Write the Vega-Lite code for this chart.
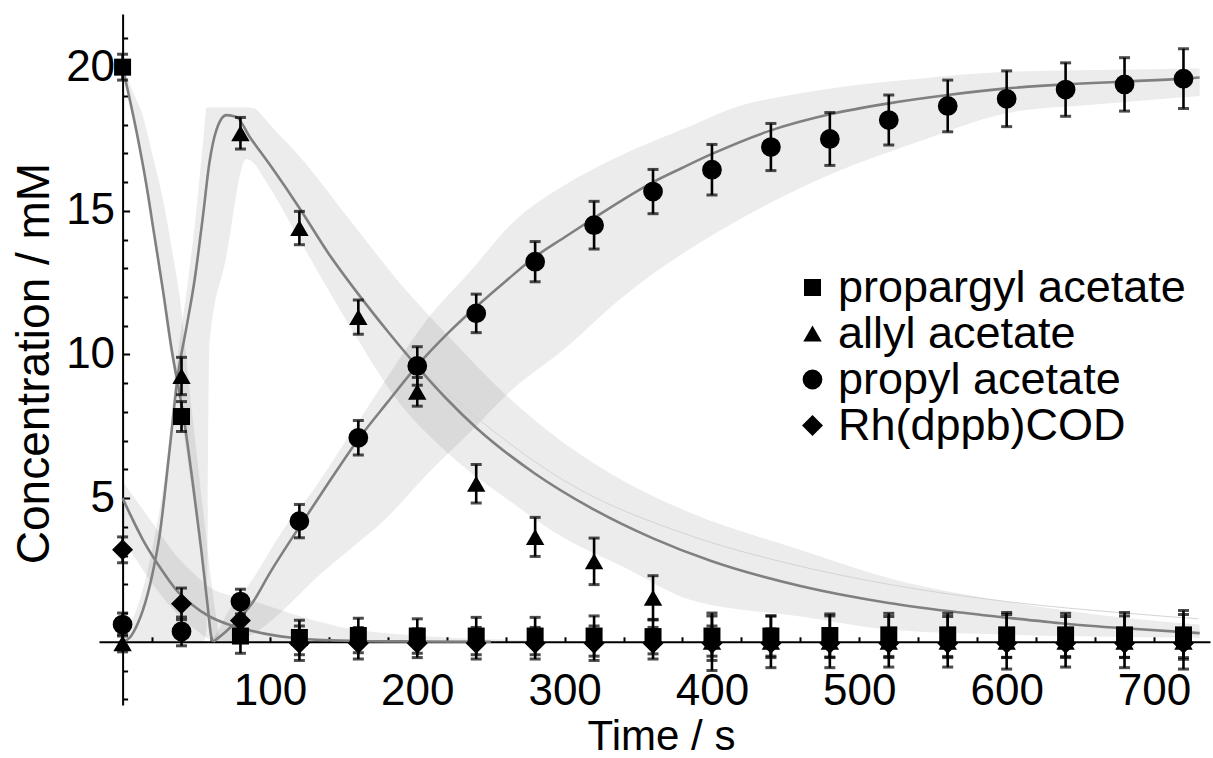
{
  "$schema": "https://vega.github.io/schema/vega-lite/v6.json",
  "width": 1111,
  "height": 691,
  "autosize": {"type": "none"},
  "padding": {"left": 99, "top": 14, "right": 3, "bottom": 53},
  "background": "white",
  "config": {"view": {"stroke": null}, "font": "Liberation Sans"},
  "datasets": {
    "pts": [
      {"series": "propargyl acetate", "t": 0, "c": 20.0, "err": 0.45},
      {"series": "propargyl acetate", "t": 40, "c": 7.84, "err": 0.52},
      {"series": "propargyl acetate", "t": 80, "c": 0.2, "err": 0.6},
      {"series": "propargyl acetate", "t": 120, "c": 0.15, "err": 0.6},
      {"series": "propargyl acetate", "t": 160, "c": 0.22, "err": 0.6},
      {"series": "propargyl acetate", "t": 200, "c": 0.2, "err": 0.6},
      {"series": "propargyl acetate", "t": 240, "c": 0.2, "err": 0.65},
      {"series": "propargyl acetate", "t": 280, "c": 0.2, "err": 0.65},
      {"series": "propargyl acetate", "t": 320, "c": 0.2, "err": 0.7},
      {"series": "propargyl acetate", "t": 360, "c": 0.18, "err": 0.6},
      {"series": "propargyl acetate", "t": 400, "c": 0.2, "err": 0.7},
      {"series": "propargyl acetate", "t": 440, "c": 0.2, "err": 0.7},
      {"series": "propargyl acetate", "t": 480, "c": 0.22, "err": 0.75},
      {"series": "propargyl acetate", "t": 520, "c": 0.24, "err": 0.75},
      {"series": "propargyl acetate", "t": 560, "c": 0.24, "err": 0.75},
      {"series": "propargyl acetate", "t": 600, "c": 0.24, "err": 0.78},
      {"series": "propargyl acetate", "t": 640, "c": 0.24, "err": 0.75},
      {"series": "propargyl acetate", "t": 680, "c": 0.24, "err": 0.78},
      {"series": "propargyl acetate", "t": 720, "c": 0.24, "err": 0.85},
      {"series": "allyl acetate", "t": 0, "c": -0.05, "err": 0.3},
      {"series": "allyl acetate", "t": 40, "c": 9.25, "err": 0.65},
      {"series": "allyl acetate", "t": 80, "c": 17.7, "err": 0.55},
      {"series": "allyl acetate", "t": 120, "c": 14.4, "err": 0.58},
      {"series": "allyl acetate", "t": 160, "c": 11.3, "err": 0.6},
      {"series": "allyl acetate", "t": 200, "c": 8.7, "err": 0.5},
      {"series": "allyl acetate", "t": 240, "c": 5.5, "err": 0.67},
      {"series": "allyl acetate", "t": 280, "c": 3.65, "err": 0.68},
      {"series": "allyl acetate", "t": 320, "c": 2.8, "err": 0.81},
      {"series": "allyl acetate", "t": 360, "c": 1.53, "err": 0.77},
      {"series": "allyl acetate", "t": 400, "c": 0.0, "err": 1.0},
      {"series": "allyl acetate", "t": 440, "c": 0.0, "err": 0.9},
      {"series": "allyl acetate", "t": 480, "c": 0.0, "err": 0.9},
      {"series": "allyl acetate", "t": 520, "c": 0.0, "err": 0.88},
      {"series": "allyl acetate", "t": 560, "c": 0.0, "err": 0.88},
      {"series": "allyl acetate", "t": 600, "c": 0.0, "err": 0.95},
      {"series": "allyl acetate", "t": 640, "c": 0.0, "err": 0.88},
      {"series": "allyl acetate", "t": 680, "c": 0.0, "err": 0.9},
      {"series": "allyl acetate", "t": 720, "c": 0.0, "err": 0.95},
      {"series": "propyl acetate", "t": 0, "c": 0.6, "err": 0.4},
      {"series": "propyl acetate", "t": 40, "c": 0.36, "err": 0.5},
      {"series": "propyl acetate", "t": 80, "c": 1.4, "err": 0.43},
      {"series": "propyl acetate", "t": 120, "c": 4.2, "err": 0.58},
      {"series": "propyl acetate", "t": 160, "c": 7.1, "err": 0.6},
      {"series": "propyl acetate", "t": 200, "c": 9.6, "err": 0.67},
      {"series": "propyl acetate", "t": 240, "c": 11.43, "err": 0.67},
      {"series": "propyl acetate", "t": 280, "c": 13.23, "err": 0.7},
      {"series": "propyl acetate", "t": 320, "c": 14.5, "err": 0.83},
      {"series": "propyl acetate", "t": 360, "c": 15.67, "err": 0.77},
      {"series": "propyl acetate", "t": 400, "c": 16.43, "err": 0.88},
      {"series": "propyl acetate", "t": 440, "c": 17.22, "err": 0.82},
      {"series": "propyl acetate", "t": 480, "c": 17.5, "err": 0.92},
      {"series": "propyl acetate", "t": 520, "c": 18.16, "err": 0.87},
      {"series": "propyl acetate", "t": 560, "c": 18.65, "err": 0.9},
      {"series": "propyl acetate", "t": 600, "c": 18.9, "err": 0.97},
      {"series": "propyl acetate", "t": 640, "c": 19.22, "err": 0.93},
      {"series": "propyl acetate", "t": 680, "c": 19.4, "err": 0.93},
      {"series": "propyl acetate", "t": 720, "c": 19.6, "err": 1.04},
      {"series": "Rh(dppb)COD", "t": 0, "c": 3.2, "err": 0.45},
      {"series": "Rh(dppb)COD", "t": 40, "c": 1.32, "err": 0.55},
      {"series": "Rh(dppb)COD", "t": 80, "c": 0.74, "err": 0.5},
      {"series": "Rh(dppb)COD", "t": 120, "c": -0.05, "err": 0.6},
      {"series": "Rh(dppb)COD", "t": 160, "c": -0.05, "err": 0.55},
      {"series": "Rh(dppb)COD", "t": 200, "c": -0.05, "err": 0.5},
      {"series": "Rh(dppb)COD", "t": 240, "c": -0.05, "err": 0.55},
      {"series": "Rh(dppb)COD", "t": 280, "c": -0.05, "err": 0.55},
      {"series": "Rh(dppb)COD", "t": 320, "c": -0.05, "err": 0.6},
      {"series": "Rh(dppb)COD", "t": 360, "c": -0.05, "err": 0.55},
      {"series": "Rh(dppb)COD", "t": 400, "c": -0.05, "err": 0.6},
      {"series": "Rh(dppb)COD", "t": 440, "c": -0.05, "err": 0.5},
      {"series": "Rh(dppb)COD", "t": 480, "c": -0.05, "err": 0.5},
      {"series": "Rh(dppb)COD", "t": 520, "c": -0.05, "err": 0.5},
      {"series": "Rh(dppb)COD", "t": 560, "c": -0.05, "err": 0.5},
      {"series": "Rh(dppb)COD", "t": 600, "c": -0.05, "err": 0.5},
      {"series": "Rh(dppb)COD", "t": 640, "c": -0.05, "err": 0.5},
      {"series": "Rh(dppb)COD", "t": 680, "c": -0.05, "err": 0.5},
      {"series": "Rh(dppb)COD", "t": 720, "c": -0.05, "err": 0.5}
    ],
    "curves": [
      {"curve": "P", "t": 0, "c": 20.0},
      {"curve": "P", "t": 9.3, "c": 17.8},
      {"curve": "P", "t": 16, "c": 15.95},
      {"curve": "P", "t": 21.7, "c": 14.1},
      {"curve": "P", "t": 27.4, "c": 12.24},
      {"curve": "P", "t": 33, "c": 10.27},
      {"curve": "P", "t": 41.4, "c": 7.84},
      {"curve": "P", "t": 47.7, "c": 5.5},
      {"curve": "P", "t": 53.4, "c": 3.2},
      {"curve": "P", "t": 57.5, "c": 1.35},
      {"curve": "P", "t": 60.2, "c": 0.18},
      {"curve": "P", "t": 61.3, "c": 0.0},
      {"curve": "A", "t": 0, "c": 0.0},
      {"curve": "A", "t": 5, "c": 0.15},
      {"curve": "A", "t": 10, "c": 0.6},
      {"curve": "A", "t": 13.8, "c": 1.1},
      {"curve": "A", "t": 20, "c": 2.3},
      {"curve": "A", "t": 25, "c": 3.66},
      {"curve": "A", "t": 31.9, "c": 6.68},
      {"curve": "A", "t": 37.6, "c": 9.3},
      {"curve": "A", "t": 43.2, "c": 10.9},
      {"curve": "A", "t": 48.9, "c": 12.6},
      {"curve": "A", "t": 54.5, "c": 14.8},
      {"curve": "A", "t": 59, "c": 16.7},
      {"curve": "A", "t": 63.6, "c": 17.8},
      {"curve": "A", "t": 70.4, "c": 18.33},
      {"curve": "A", "t": 77.2, "c": 18.27},
      {"curve": "A", "t": 86.2, "c": 17.58},
      {"curve": "A", "t": 100, "c": 16.6},
      {"curve": "A", "t": 120, "c": 15.1},
      {"curve": "A", "t": 140, "c": 13.5},
      {"curve": "A", "t": 160, "c": 12.1},
      {"curve": "A", "t": 180, "c": 10.8},
      {"curve": "A", "t": 200, "c": 9.58},
      {"curve": "A", "t": 220, "c": 8.45},
      {"curve": "A", "t": 240, "c": 7.45},
      {"curve": "A", "t": 280, "c": 5.85},
      {"curve": "A", "t": 320, "c": 4.6},
      {"curve": "A", "t": 360, "c": 3.6},
      {"curve": "A", "t": 400, "c": 2.8},
      {"curve": "A", "t": 460, "c": 1.94},
      {"curve": "A", "t": 520, "c": 1.35},
      {"curve": "A", "t": 560, "c": 1.07},
      {"curve": "A", "t": 600, "c": 0.84},
      {"curve": "A", "t": 640, "c": 0.63},
      {"curve": "A", "t": 680, "c": 0.47},
      {"curve": "A", "t": 731, "c": 0.3},
      {"curve": "R", "t": 61.5, "c": 0.0},
      {"curve": "R", "t": 70, "c": 0.35},
      {"curve": "R", "t": 80, "c": 0.85},
      {"curve": "R", "t": 88, "c": 1.35},
      {"curve": "R", "t": 100, "c": 2.4},
      {"curve": "R", "t": 120, "c": 4.0},
      {"curve": "R", "t": 140, "c": 5.55},
      {"curve": "R", "t": 160, "c": 7.05},
      {"curve": "R", "t": 180, "c": 8.35},
      {"curve": "R", "t": 199.4, "c": 9.58},
      {"curve": "R", "t": 220, "c": 10.7},
      {"curve": "R", "t": 240, "c": 11.66},
      {"curve": "R", "t": 260, "c": 12.55},
      {"curve": "R", "t": 280, "c": 13.4},
      {"curve": "R", "t": 300, "c": 14.08},
      {"curve": "R", "t": 320, "c": 14.75},
      {"curve": "R", "t": 340, "c": 15.4},
      {"curve": "R", "t": 360, "c": 16.0},
      {"curve": "R", "t": 380, "c": 16.5},
      {"curve": "R", "t": 400, "c": 16.98},
      {"curve": "R", "t": 440, "c": 17.8},
      {"curve": "R", "t": 480, "c": 18.36},
      {"curve": "R", "t": 520, "c": 18.74},
      {"curve": "R", "t": 560, "c": 19.03},
      {"curve": "R", "t": 600, "c": 19.26},
      {"curve": "R", "t": 640, "c": 19.4},
      {"curve": "R", "t": 680, "c": 19.5},
      {"curve": "R", "t": 720, "c": 19.6},
      {"curve": "R", "t": 731, "c": 19.64},
      {"curve": "D", "t": 0, "c": 5.0},
      {"curve": "D", "t": 5, "c": 4.45},
      {"curve": "D", "t": 13.8, "c": 3.55},
      {"curve": "D", "t": 25, "c": 2.62},
      {"curve": "D", "t": 36.4, "c": 1.81},
      {"curve": "D", "t": 47, "c": 1.3},
      {"curve": "D", "t": 59, "c": 0.88},
      {"curve": "D", "t": 72, "c": 0.6},
      {"curve": "D", "t": 86, "c": 0.4},
      {"curve": "D", "t": 100, "c": 0.25},
      {"curve": "D", "t": 115, "c": 0.14},
      {"curve": "D", "t": 131.5, "c": 0.07},
      {"curve": "D", "t": 160, "c": 0.03},
      {"curve": "D", "t": 200, "c": 0.01},
      {"curve": "D", "t": 250, "c": 0.0}
    ],
    "faint": [
      {"t": 200, "c": 9.6},
      {"t": 250, "c": 7.4},
      {"t": 300, "c": 5.6},
      {"t": 385, "c": 3.7},
      {"t": 450, "c": 2.75},
      {"t": 520, "c": 2.0},
      {"t": 600, "c": 1.4},
      {"t": 680, "c": 1.0},
      {"t": 730, "c": 0.8}
    ],
    "bands": [
      {"band": "P", "t": 0, "c": 19.7, "c2": 20.2},
      {"band": "P", "t": 5, "c": 18.6, "c2": 19.4},
      {"band": "P", "t": 13.8, "c": 16.4, "c2": 18.3},
      {"band": "P", "t": 20, "c": 14.4, "c2": 17.0},
      {"band": "P", "t": 27.4, "c": 11.9, "c2": 15.4},
      {"band": "P", "t": 33, "c": 9.9, "c2": 13.8},
      {"band": "P", "t": 39.8, "c": 7.9, "c2": 11.6},
      {"band": "P", "t": 45, "c": 6.0, "c2": 9.0},
      {"band": "P", "t": 50, "c": 4.3, "c2": 6.7},
      {"band": "P", "t": 55, "c": 2.5, "c2": 4.4},
      {"band": "P", "t": 60, "c": 0.1, "c2": 2.2},
      {"band": "P", "t": 66, "c": 0, "c2": 0},
      {"band": "A", "t": 0, "c": 0, "c2": 0.3},
      {"band": "A", "t": 10, "c": 0, "c2": 1.2},
      {"band": "A", "t": 20, "c": 0, "c2": 3.2},
      {"band": "A", "t": 30, "c": 0, "c2": 6.3},
      {"band": "A", "t": 37.6, "c": 0, "c2": 10.0},
      {"band": "A", "t": 45, "c": 0, "c2": 12.8},
      {"band": "A", "t": 50, "c": 0, "c2": 15.0},
      {"band": "A", "t": 55, "c": 0, "c2": 17.6},
      {"band": "A", "t": 57, "c": 0.5, "c2": 18.6},
      {"band": "A", "t": 59, "c": 10.4, "c2": 18.6},
      {"band": "A", "t": 70, "c": 13.3, "c2": 18.6},
      {"band": "A", "t": 84, "c": 16.8, "c2": 18.6},
      {"band": "A", "t": 90, "c": 16.6, "c2": 18.55},
      {"band": "A", "t": 95, "c": 16.2, "c2": 18.3},
      {"band": "A", "t": 100, "c": 15.8, "c2": 18.0},
      {"band": "A", "t": 120, "c": 14.0, "c2": 16.9},
      {"band": "A", "t": 154, "c": 11.0, "c2": 14.7},
      {"band": "A", "t": 188, "c": 8.3, "c2": 12.5},
      {"band": "A", "t": 220, "c": 6.6, "c2": 10.7},
      {"band": "A", "t": 260, "c": 5.0, "c2": 8.6},
      {"band": "A", "t": 300, "c": 3.6, "c2": 6.9},
      {"band": "A", "t": 340, "c": 2.6, "c2": 5.6},
      {"band": "A", "t": 385, "c": 1.46, "c2": 4.5},
      {"band": "A", "t": 460, "c": 0.88, "c2": 3.2},
      {"band": "A", "t": 521, "c": 0.42, "c2": 2.2},
      {"band": "A", "t": 600, "c": 0.25, "c2": 1.4},
      {"band": "A", "t": 660, "c": 0.18, "c2": 0.95},
      {"band": "A", "t": 731, "c": 0.14, "c2": 0.6},
      {"band": "R", "t": 60, "c": 0, "c2": 0},
      {"band": "R", "t": 65, "c": 0, "c2": 0.4},
      {"band": "R", "t": 70, "c": 0, "c2": 0.9},
      {"band": "R", "t": 86, "c": 0.2, "c2": 2.0},
      {"band": "R", "t": 109, "c": 1.1, "c2": 3.9},
      {"band": "R", "t": 131, "c": 2.2, "c2": 5.4},
      {"band": "R", "t": 154, "c": 3.2, "c2": 7.2},
      {"band": "R", "t": 177, "c": 4.2, "c2": 9.0},
      {"band": "R", "t": 208, "c": 5.9, "c2": 11.3},
      {"band": "R", "t": 236, "c": 7.3, "c2": 12.9},
      {"band": "R", "t": 265, "c": 8.8, "c2": 14.6},
      {"band": "R", "t": 300, "c": 10.2, "c2": 15.9},
      {"band": "R", "t": 337, "c": 11.9, "c2": 16.9},
      {"band": "R", "t": 392, "c": 13.9, "c2": 18.1},
      {"band": "R", "t": 405, "c": 14.3, "c2": 18.4},
      {"band": "R", "t": 473, "c": 16.1, "c2": 19.2},
      {"band": "R", "t": 540, "c": 17.4, "c2": 19.6},
      {"band": "R", "t": 600, "c": 18.4, "c2": 19.84},
      {"band": "R", "t": 660, "c": 18.7, "c2": 19.9},
      {"band": "R", "t": 731, "c": 19.0, "c2": 19.95},
      {"band": "D", "t": 0, "c": 3.6, "c2": 5.6},
      {"band": "D", "t": 13.8, "c": 2.5, "c2": 4.6},
      {"band": "D", "t": 25, "c": 1.7, "c2": 3.8},
      {"band": "D", "t": 36.4, "c": 1.0, "c2": 3.0},
      {"band": "D", "t": 50, "c": 0.4, "c2": 2.3},
      {"band": "D", "t": 59, "c": 0.1, "c2": 1.9},
      {"band": "D", "t": 86, "c": 0, "c2": 1.46},
      {"band": "D", "t": 120, "c": 0, "c2": 0.9},
      {"band": "D", "t": 154, "c": 0, "c2": 0.45},
      {"band": "D", "t": 190, "c": 0, "c2": 0.25},
      {"band": "D", "t": 222, "c": 0, "c2": 0.14},
      {"band": "D", "t": 280, "c": 0, "c2": 0.05}
    ]
  },
  "encoding": {
    "x": {
      "field": "t", "type": "quantitative",
      "scale": {"domain": [-16, 738], "nice": false, "zero": false},
      "axis": {
        "title": "Time / s", "orient": "bottom", "offset": -63.2,
        "values": [20, 40, 60, 80, 100, 120, 140, 160, 180, 200, 220, 240, 260, 280, 300, 320, 340, 360, 380, 400, 420, 440, 460, 480, 500, 520, 540, 560, 580, 600, 620, 640, 660, 680, 700, 720],
        "labelExpr": "datum.value % 100 === 0 ? datum.label : ''",
        "tickSize": -5, "tickWidth": 2, "tickColor": "black",
        "domainColor": "black", "domainWidth": 2,
        "labelFont": "Liberation Sans", "labelFontSize": 44, "labelColor": "black",
        "labelPadding": 33, "labelFlush": false, "labelOverlap": false, "labelBound": false,
        "titleFont": "Liberation Sans", "titleFontSize": 42, "titleFontWeight": "normal", "titleColor": "black",
        "titleBaseline": "alphabetic", "titleX": 562, "titleY": 108,
        "grid": false
      }
    },
    "y": {
      "field": "c", "type": "quantitative",
      "scale": {"domain": [-2.2, 21.85], "nice": false, "zero": false},
      "axis": {
        "title": "Concentration / mM", "orient": "left", "offset": -23.6,
        "values": [-2, -1, 1, 2, 3, 4, 5, 6, 7, 8, 9, 10, 11, 12, 13, 14, 15, 16, 17, 18, 19, 20, 21],
        "labelExpr": "datum.value % 5 === 0 ? datum.label : ''",
        "tickSize": {"condition": {"test": "datum.value % 5 === 0", "value": -7}, "value": -5},
        "tickWidth": 2, "tickColor": "black",
        "domainColor": "black", "domainWidth": 2,
        "labelFont": "Liberation Sans", "labelFontSize": 44, "labelColor": "black",
        "labelPadding": 15, "labelFlush": false, "labelOverlap": false, "labelBound": false,
        "titleFont": "Liberation Sans", "titleFontSize": 46, "titleFontWeight": "normal", "titleColor": "black",
        "titleBaseline": "alphabetic", "titleAngle": -90, "titleX": -74.6, "titleY": 349,
        "grid": false
      }
    }
  },
  "layer": [
    {
      "data": {"name": "bands"},
      "mark": {"type": "area", "color": "black", "opacity": 0.075, "interpolate": "monotone"},
      "encoding": {"y2": {"field": "c2"}, "detail": {"field": "band"}}
    },
    {
      "data": {"name": "faint"},
      "mark": {"type": "line", "color": "#d4d4d4", "strokeWidth": 1, "interpolate": "monotone"},
      "encoding": {}
    },
    {
      "data": {"name": "curves"},
      "mark": {"type": "line", "color": "#808080", "strokeWidth": 2.6, "interpolate": "monotone"},
      "encoding": {"detail": {"field": "curve"}}
    },
    {
      "data": {"name": "pts"},
      "mark": {"type": "errorbar", "ticks": {"size": 11, "thickness": 3, "color": "black"}, "rule": {"strokeWidth": 2.6, "color": "black"}},
      "encoding": {"yError": {"field": "err"}}
    },
    {
      "data": {"name": "pts"},
      "mark": {"type": "point", "filled": true, "color": "black", "opacity": 1},
      "encoding": {
        "shape": {
          "field": "series", "type": "nominal",
          "scale": {"domain": ["propargyl acetate", "allyl acetate", "propyl acetate", "Rh(dppb)COD"], "range": ["square", "triangle-up", "circle", "diamond"]},
          "legend": {
            "title": null, "orient": "none", "legendX": 691, "legendY": 251,
            "labelFont": "Liberation Sans", "labelFontSize": 45, "labelColor": "black", "labelLimit": 600,
            "labelOffset": 3, "rowPadding": 0,
            "symbolFillColor": "black", "symbolStrokeWidth": 0, "symbolOpacity": 1
          }
        },
        "size": {
          "field": "series", "type": "nominal",
          "scale": {"domain": ["propargyl acetate", "allyl acetate", "propyl acetate", "Rh(dppb)COD"], "range": [289, 441, 625, 576]}
        }
      }
    }
  ]
}
